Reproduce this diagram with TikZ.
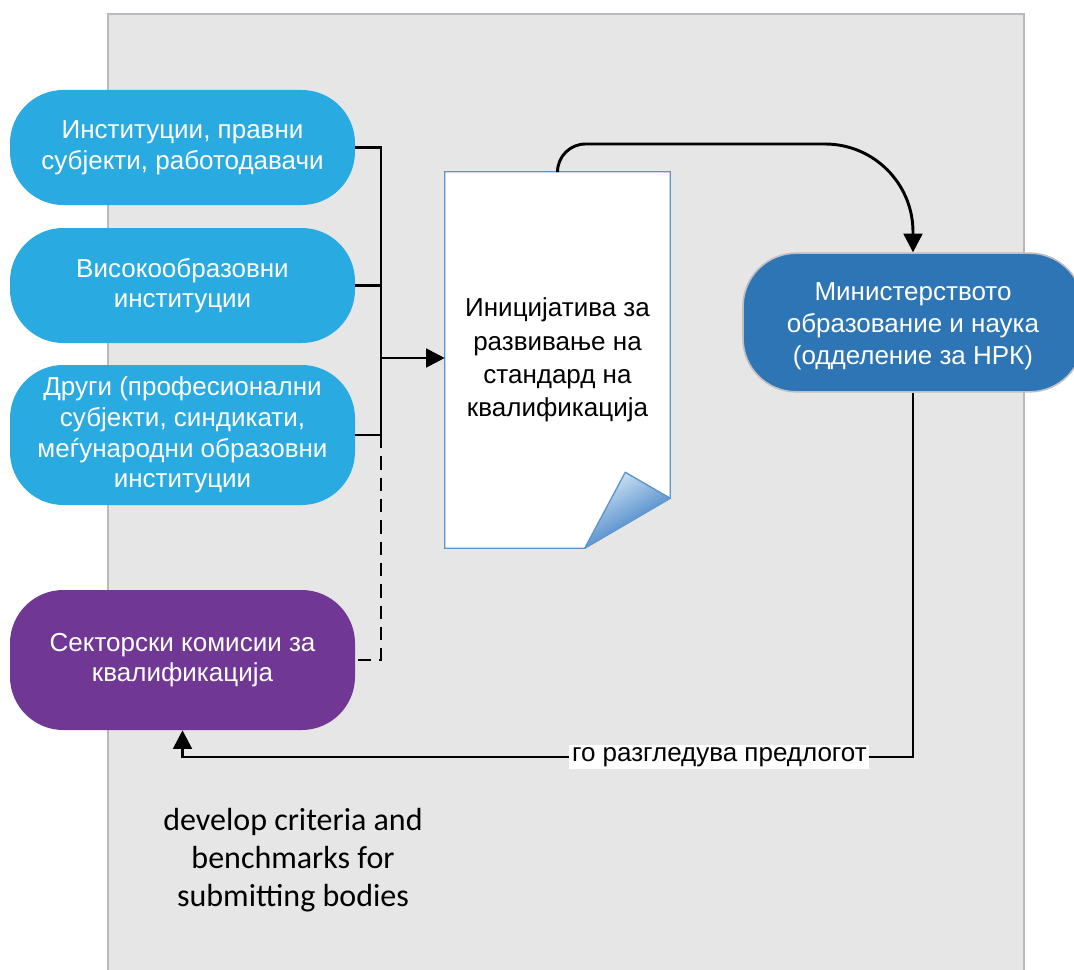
\documentclass[tikz,border=0pt]{standalone}
\usepackage{fontspec}
\setmainfont{Liberation Sans}
\newfontfamily\calibrifont{Carlito}
\usepackage{xcolor}
\usetikzlibrary{positioning,calc,arrows.meta,shadings}

\definecolor{bodyblue}{RGB}{41,171,226}
\definecolor{sectorpurple}{RGB}{112,56,148}
\definecolor{ministryblue}{RGB}{46,117,182}
\definecolor{ministryline}{RGB}{190,190,195}
\definecolor{pageblue}{RGB}{91,147,204}
\definecolor{foldlight}{RGB}{215,230,245}
\definecolor{folddark}{RGB}{30,108,188}
\definecolor{panelgray}{RGB}{230,230,230}
\definecolor{panelline}{RGB}{185,185,190}

\begin{document}
\begin{tikzpicture}[x=0.75pt, y=-0.75pt,
    terminal/.style={rectangle, rounded corners=40pt, minimum width=258.75pt, minimum height=86.25pt, inner sep=0pt, align=center, text=white, font=\fontsize{19.5}{23}\selectfont},
    link/.style={line width=2.2pt, black},
    arrowlink/.style={-{Triangle[length=14pt,width=14pt]}},
    review/.style={fill=white, inner sep=2pt, font=\fontsize{19.5}{23}\selectfont}]
    \useasboundingbox (0,0) rectangle (1074,970);

    % Panel
    \draw[fill=panelgray, draw=panelline, line width=1.5pt] (108,14) rectangle (1024,975);

    % Submitting bodies
    \node[terminal, fill=bodyblue] (inst) at (182.5,147.5) {Институции, правни\\субјекти, работодавачи};
    \node[terminal, fill=bodyblue] (higher) at (182.5,285.5) {Високообразовни\\институции};
    \node[terminal, fill=bodyblue, minimum height=105pt] (other) at (182.5,435) {Други (професионални\\субјекти, синдикати,\\меѓународни образовни\\институции};
    \node[terminal, fill=sectorpurple, minimum height=105pt] (sector) at (182.5,660) {Секторски комисии за\\квалификација};

    % Ministry
    \node[terminal, fill=ministryblue, draw=ministryline, line width=1.2pt, minimum width=255pt, minimum height=104pt, font=\fontsize{19.5}{24}\selectfont] (ministry) at (913,322.5) {};
    \node[align=center, text=white, font=\fontsize{19.5}{24}\selectfont] (ministrytext) at ($(ministry.center)+(0,4)$) {Министерството\\образование и наука\\(одделение за НРК)};

    % Document
    \node[minimum width=168.75pt, minimum height=282pt, inner sep=0pt] (doc) at (557.5,360) {};
    \draw[pageblue, line width=1pt, fill=white] (doc.north west) -- (doc.north east) -- ($(doc.south east)+(0,-50)$) -- ($(doc.south west)+(140,0)$) -- (doc.south west) -- cycle;
    \shade[top color=foldlight, bottom color=folddark, shading angle=30] ($(doc.south west)+(140,0)$) -- ($(doc.south east)+(-45,-76)$) -- ($(doc.south east)+(0,-50)$) -- cycle;
    \draw[pageblue, line width=1pt, line join=round] ($(doc.south west)+(140,0)$) -- ($(doc.south east)+(-45,-76)$) -- ($(doc.south east)+(0,-50)$);
    \node[align=center, font=\fontsize{19.5}{25}\selectfont] (doctext) at (doc.center) {Иницијатива за\\развивање на\\стандард на\\квалификација};

    % Connectors
    \coordinate (spine) at (381,358);
    \draw[link] (inst.east) -- (inst.east -| spine) -- (other.east -| spine) -- (other.east);
    \draw[link] (higher.east) -- (higher.east -| spine);
    \draw[link, arrowlink] (spine) -- (spine -| doc.west);
    \draw[link, dash pattern=on 10pt off 6pt] (other.east -| spine) -- (sector.east -| spine) -- (sector.east);

    \coordinate (bend) at (557.5,144);
    \draw[link, arrowlink] (doc.north) [rounded corners=21pt] -- (bend) [rounded corners=66pt] -- (bend -| ministry.north) -- (ministry.north);

    \coordinate (back) at (913,757);
    \draw[link, arrowlink] (ministry.south) -- (back) -- node[review, pos=0.265] (reviewtext) {го разгледува предлогот} (back -| sector.south) -- (sector.south);

    % Note
    \node[align=center, font=\calibrifont\fontsize{24}{28.5}\selectfont] (criteria) at (293,860) {develop criteria and\\benchmarks for\\submitting bodies};
\end{tikzpicture}
\end{document}
